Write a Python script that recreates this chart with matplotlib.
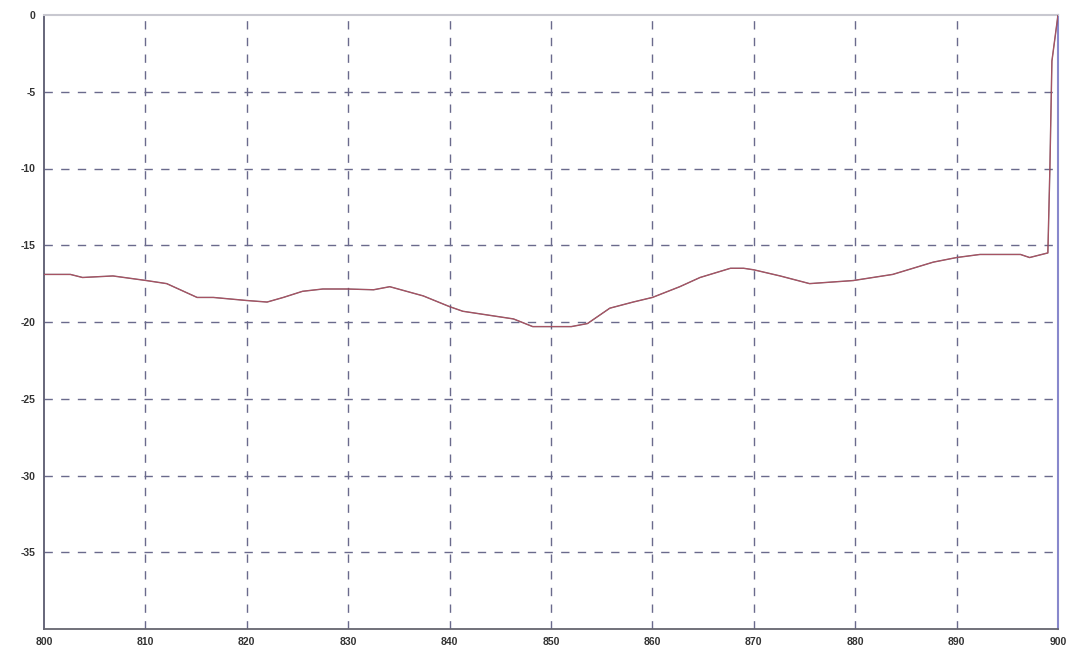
import matplotlib

matplotlib.use("Agg")
import matplotlib.pyplot as plt

# frequency (MHz) and return loss (dB)
freq = [800.0, 802.6, 803.8, 806.8, 810.1, 812.1, 815.1, 816.7, 820.0, 822.0,
        823.6, 825.5, 827.5, 829.9, 832.5, 834.1, 837.4, 840.0, 841.3, 846.3,
        848.2, 850.1, 852.0, 853.6, 855.8, 858.1, 860.0, 862.7, 864.7, 867.7,
        869.0, 870.0, 872.6, 875.5, 879.8, 883.7, 887.7, 890.0, 892.3, 896.3,
        897.2, 899.0, 899.2, 899.4, 899.7, 900.0]
loss = [-16.9, -16.9, -17.1, -17.0, -17.3, -17.5, -18.4, -18.4, -18.6, -18.7,
        -18.4, -18.0, -17.85, -17.85, -17.9, -17.7, -18.3, -19.0, -19.3, -19.8,
        -20.3, -20.3, -20.3, -20.1, -19.1, -18.7, -18.4, -17.7, -17.1, -16.5,
        -16.5, -16.6, -17.0, -17.5, -17.3, -16.9, -16.1, -15.8, -15.6, -15.6,
        -15.8, -15.5, -10.0, -3.0, -1.5, 0.0]

x_ticks = [800, 810, 820, 830, 840, 850, 860, 870, 880, 890, 900]
y_ticks = [0, -5, -10, -15, -20, -25, -30, -35]

fig = plt.figure(figsize=(10.74, 6.48), dpi=100)
ax = fig.add_axes([44 / 1074, 19 / 648, 1014 / 1074, 614 / 648])

ax.plot(freq, loss, color="#6a3848", linewidth=1.0, zorder=3)
ax.plot(freq, loss, color="#e87080", linewidth=0.5, alpha=0.7, zorder=4)

ax.set_xlim(800, 900)
ax.set_ylim(-40, 0)
ax.set_xticks(x_ticks)
ax.set_yticks(y_ticks)
ax.set_xticklabels([str(v) for v in x_ticks])
ax.set_yticklabels([str(v) for v in y_ticks])
ax.tick_params(length=0, labelsize=7.5, labelcolor="#333333", pad=6)
for lab in ax.get_xticklabels() + ax.get_yticklabels():
    lab.set_family("Liberation Sans")
    lab.set_fontweight("bold")

ax.set_axisbelow(True)
ax.grid(True, color="#6a6a8c", linestyle=(0, (6, 6)), linewidth=1.0)
# no dashed lines on top of the frame
xg = ax.xaxis.get_gridlines()
xg[0].set_visible(False)
xg[-1].set_visible(False)
ax.yaxis.get_gridlines()[0].set_visible(False)

ax.spines["left"].set_color("#5a5a70")
ax.spines["left"].set_linewidth(1.3)
ax.spines["bottom"].set_color("#666670")
ax.spines["bottom"].set_linewidth(1.3)
ax.spines["top"].set_color("#c8c8d0")
ax.spines["top"].set_linewidth(1.5)
ax.spines["right"].set_color("#8888cc")
ax.spines["right"].set_linewidth(1.5)

fig.savefig("out.png", dpi=100, facecolor="white")
